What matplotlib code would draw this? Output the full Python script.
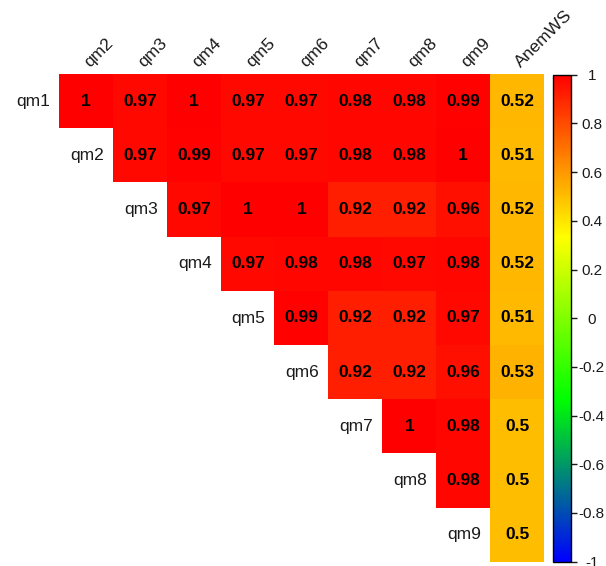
import numpy as np
import matplotlib.pyplot as plt
from matplotlib.colors import LinearSegmentedColormap

plt.rcParams["font.family"] = ["Liberation Sans", "DejaVu Sans"]

row_labels = ["qm1", "qm2", "qm3", "qm4", "qm5", "qm6", "qm7", "qm8", "qm9"]
col_labels = ["qm2", "qm3", "qm4", "qm5", "qm6", "qm7", "qm8", "qm9", "AnemWS"]

# upper triangle, one list per row starting at the diagonal column
qm1 = [1, 0.97, 1, 0.97, 0.97, 0.98, 0.98, 0.99, 0.52]
qm2 = [0.97, 0.99, 0.97, 0.97, 0.98, 0.98, 1, 0.51]
qm3 = [0.97, 1, 1, 0.92, 0.92, 0.96, 0.52]
qm4 = [0.97, 0.98, 0.98, 0.97, 0.98, 0.52]
qm5 = [0.99, 0.92, 0.92, 0.97, 0.51]
qm6 = [0.92, 0.92, 0.96, 0.53]
qm7 = [1, 0.98, 0.5]
qm8 = [0.98, 0.5]
qm9 = [0.5]
rows = [qm1, qm2, qm3, qm4, qm5, qm6, qm7, qm8, qm9]

n = len(col_labels)
mat = np.full((n, n), np.nan)
for i, vals in enumerate(rows):
    mat[i, i:] = vals
mat = np.ma.masked_invalid(mat)

cmap = LinearSegmentedColormap.from_list(
    "bgyr", ["#0000FF", "#00FF00", "#FFFF00", "#FF0000"], N=256)

fig = plt.figure(figsize=(6.06, 5.66), dpi=100)
W, H = 606, 566
ax = fig.add_axes([59.3 / W, 1 - 561.7 / H, 484.7 / W, 487.4 / H])
im = ax.imshow(mat, cmap=cmap, vmin=-1, vmax=1, aspect="auto",
               extent=(0, n, n, 0), interpolation="nearest")
ax.set_xlim(0, n)
ax.set_ylim(n, 0)
ax.axis("off")

for i, vals in enumerate(rows):
    for k, v in enumerate(vals):
        j = i + k
        ax.text(j + 0.5, i + 0.5, f"{v:g}", ha="center", va="center",
                fontsize=12.5, fontweight="bold", color="black")
    ax.text(i - 0.17, i + 0.5, row_labels[i], ha="right", va="center",
            fontsize=12.5, color="#1a1a1a")

for j, lab in enumerate(col_labels):
    ax.text(j + 0.62, -0.08, lab, rotation=45, rotation_mode="anchor",
            ha="left", va="bottom", fontsize=12.5, color="#1a1a1a",
            clip_on=False)

cax = fig.add_axes([552.7 / W, 1 - 561.7 / H, 18.3 / W, 487 / H])
cb = fig.colorbar(im, cax=cax)
cb.set_ticks(np.round(np.arange(-1, 1.01, 0.2), 1))
cb.set_ticklabels(["-1", "-0.8", "-0.6", "-0.4", "-0.2", "0",
                   "0.2", "0.4", "0.6", "0.8", "1"])
cax.tick_params(labelsize=11, length=4, width=1, pad=11, colors="#1a1a1a")
for t in cax.get_yticklabels():
    t.set_horizontalalignment("center")
cb.outline.set_linewidth(1)

fig.savefig("out.png", dpi=100)
